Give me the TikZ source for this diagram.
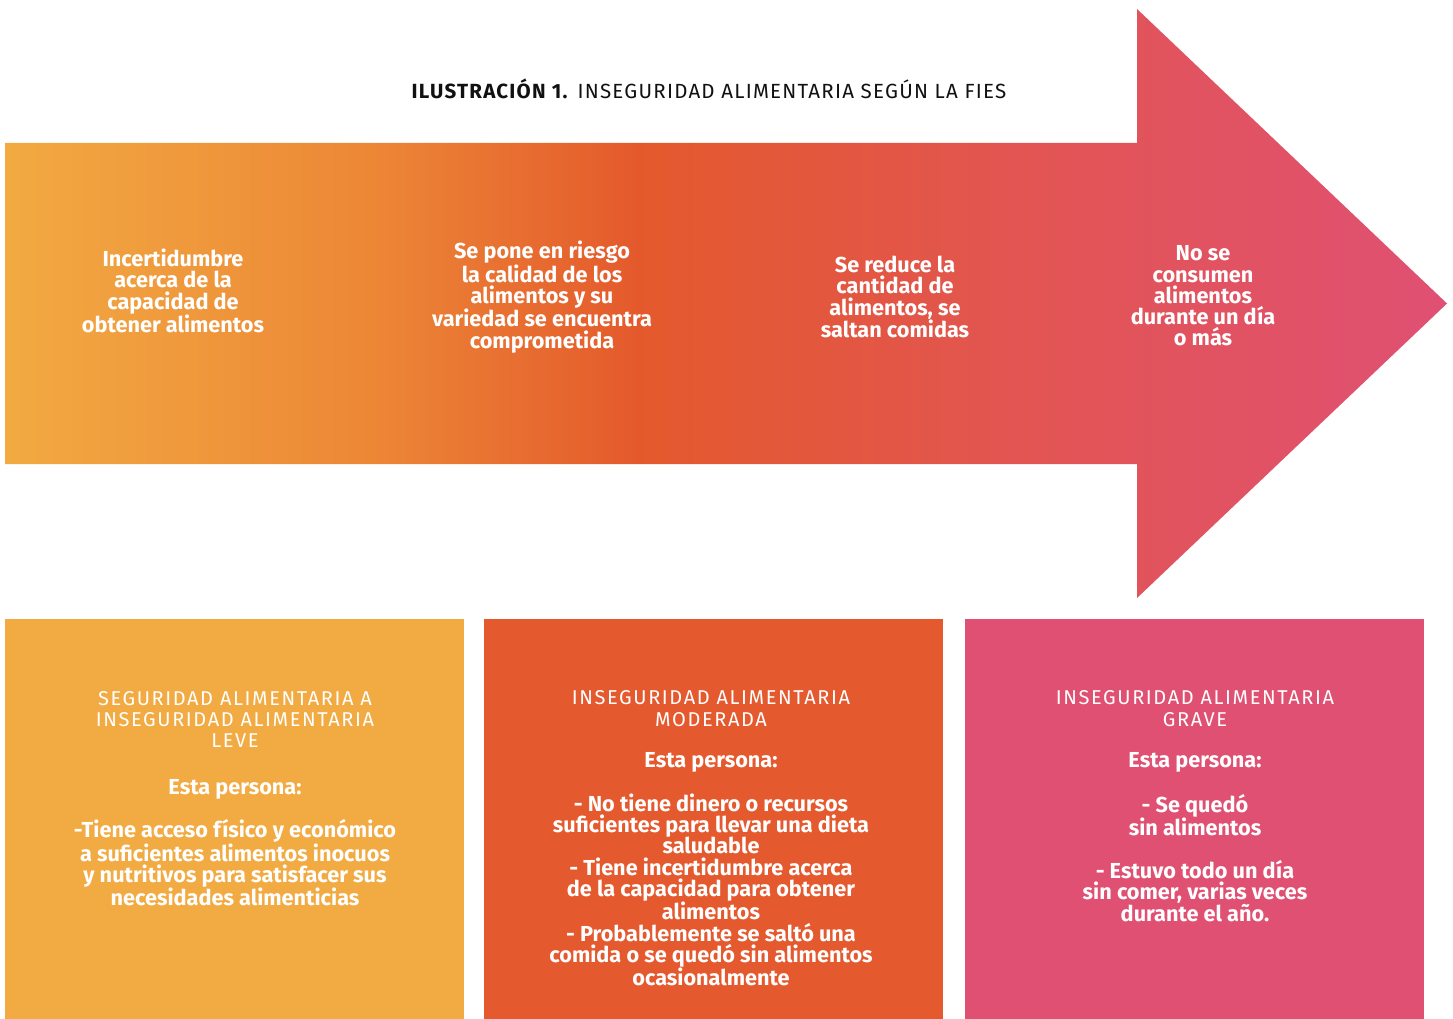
\documentclass[tikz,border=0pt]{standalone}
\usepackage{fontspec}
\setmainfont{Fira Sans}
\newfontfamily\capsfont[LetterSpace=8]{Fira Sans}
\newfontfamily\titlefont[LetterSpace=6]{Fira Sans}
\definecolor{cA}{HTML}{F2AA42}
\definecolor{cB}{HTML}{EC8636}
\definecolor{cC}{HTML}{E4592C}
\definecolor{cD}{HTML}{E25552}
\definecolor{cE}{HTML}{E05073}
\definecolor{boxY}{HTML}{F2AA43}
\definecolor{boxO}{HTML}{E5592E}
\definecolor{boxP}{HTML}{E05072}
\definecolor{titlec}{HTML}{111111}
\pgfdeclarehorizontalshading{fiesgrad}{100bp}{color(0bp)=(cA); color(25bp)=(cA); color(38bp)=(cB); color(47bp)=(cC); color(60bp)=(cD); color(75bp)=(cE); color(100bp)=(cE)}
\tikzset{
  boldtxt/.style={text=white, align=center, inner sep=0pt, font=\fontsize{21.7}{21.3}\selectfont\bfseries},
  capstxt/.style={text=white, align=center, inner sep=0pt, font=\fontsize{20}{21.3}\selectfont\capsfont},
  panel/.style={draw=none, inner sep=0pt, minimum width=459pt, minimum height=400pt}
}
\begin{document}
\begin{tikzpicture}[x=1pt,y=-1pt]
\useasboundingbox[fill=white] (0,0) rectangle (1453,1019);
% title
\node[text=titlec, inner sep=0pt, font=\fontsize{20.5}{22}\selectfont\titlefont] (title) at (709,89) {\textbf{ILUSTRACIÓN 1.} INSEGURIDAD ALIMENTARIA SEGÚN LA FIES};
% arrow
\shade[shading=fiesgrad] (5,143) -- (1137,143) -- (1137,9) -- (1447,303.5) -- (1137,598) -- (1137,464) -- (5,464) -- cycle;
\node[boldtxt] (s1) at (173,291) {Incertidumbre\\acerca de la\\capacidad de\\obtener alimentos};
\node[boldtxt] (s2) at (542,297) {Se pone en riesgo\\la calidad de los\\alimentos y su\\variedad se encuentra\\comprometida};
\node[boldtxt] (s3) at (895,297) {Se reduce la\\cantidad de\\alimentos, se\\saltan comidas};
\node[boldtxt] (s4) at (1203,296) {No se\\consumen\\alimentos\\durante un día\\o más};
% panels
\node[panel, fill=boxY] (p1) at (234.5,819) {};
\node[panel, fill=boxO] (p2) at (713.5,819) {};
\node[panel, fill=boxP] (p3) at (1194.5,819) {};
% panel 1
\node[capstxt] (p1h) at (235,719.5) {SEGURIDAD ALIMENTARIA A\\INSEGURIDAD ALIMENTARIA\\LEVE};
\node[boldtxt] (p1e) at (235,789) {Esta persona:};
\node[boldtxt] (p1b) at (235,863) {-Tiene acceso físico y económico\\a suficientes alimentos inocuos\\y nutritivos para satisfacer sus\\necesidades alimenticias};
% panel 2
\node[capstxt] (p2h) at (711,708.5) {INSEGURIDAD ALIMENTARIA\\MODERADA};
\node[boldtxt] (p2e) at (711,762) {Esta persona:};
\node[boldtxt] (p2b) at (711,890) {- No tiene dinero o recursos\\suficientes para llevar una dieta\\saludable\\- Tiene incertidumbre acerca\\de la capacidad para obtener\\alimentos\\- Probablemente se saltó una\\comida o se quedó sin alimentos\\ocasionalmente};
% panel 3
\node[capstxt] (p3h) at (1195,708.5) {INSEGURIDAD ALIMENTARIA\\GRAVE};
\node[boldtxt] (p3e) at (1195,762) {Esta persona:};
\node[boldtxt] (p3b) at (1195,858) {- Se quedó\\sin alimentos\\[21.3pt]- Estuvo todo un día\\sin comer, varias veces\\durante el año.};
\end{tikzpicture}
\end{document}
